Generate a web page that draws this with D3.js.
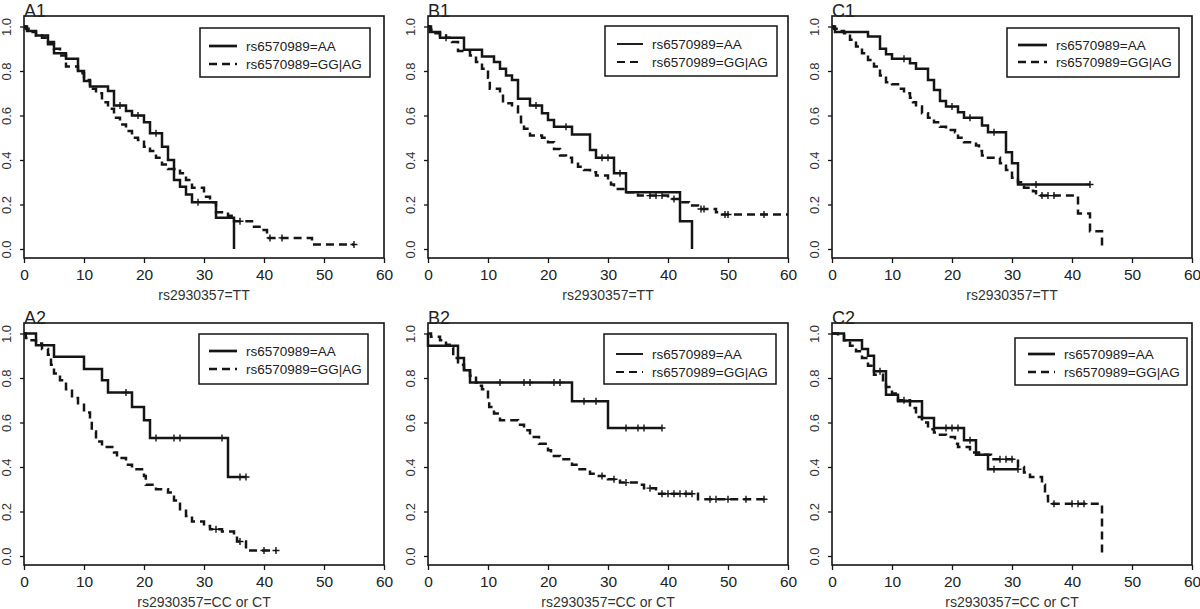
<!DOCTYPE html>
<html><head><meta charset="utf-8">
<script src="https://cdn.jsdelivr.net/npm/d3@7"></script>
<style>
body{margin:0;background:#fff;}
svg{display:block;font-family:"Liberation Sans",Arial,Helvetica,sans-serif;}
</style>
</head><body>
<svg id="chart" width="1200" height="609"></svg>
<script>
// ---------- tick labels / text ----------
const xTicks = [0, 10, 20, 30, 40, 50, 60];
const yTicks = [0, 0.2, 0.4, 0.6, 0.8, 1.0];
const panelLabels = ["A1", "B1", "C1", "A2", "B2", "C2"];
const xTitles = ["rs2930357=TT", "rs2930357=TT", "rs2930357=TT",
                 "rs2930357=CC or CT", "rs2930357=CC or CT", "rs2930357=CC or CT"];
const legendLabels = ["rs6570989=AA", "rs6570989=GG|AG"];

// ---------- Kaplan-Meier curves: event times (t), survival after event (s), censor times (c) ----------
// A1
const a1AA_t = [0.5, 2, 4, 5, 7, 9, 10, 11, 14, 15, 17, 18, 20, 21, 23, 24, 25, 26, 27, 28, 32, 35];
const a1AA_s = [0.98, 0.96, 0.92, 0.88, 0.855, 0.80, 0.755, 0.73, 0.71, 0.645, 0.62, 0.60, 0.57, 0.52, 0.46, 0.40, 0.31, 0.28, 0.245, 0.21, 0.14, 0];
const a1AA_c = [16, 19, 22, 29];
const a1GA_t = [0.3, 1, 2, 3, 4, 5, 6, 7, 9, 10, 11, 12, 13, 14, 15, 16, 17, 18, 19, 20, 21, 22, 23, 24, 26, 27, 28, 30, 31, 32, 34, 35, 38, 39.5, 40.5, 48];
const a1GA_s = [0.99, 0.975, 0.96, 0.95, 0.93, 0.90, 0.87, 0.82, 0.79, 0.76, 0.72, 0.70, 0.66, 0.63, 0.59, 0.56, 0.53, 0.50, 0.49, 0.46, 0.44, 0.41, 0.38, 0.36, 0.34, 0.31, 0.275, 0.235, 0.21, 0.165, 0.15, 0.125, 0.10, 0.085, 0.05, 0.02];
const a1GA_c = [36, 41, 43, 55];
// B1
const b1AA_t = [0.3, 2, 6, 9, 11, 12, 13, 14, 15, 17, 19, 20, 21, 24, 27, 28, 31, 33, 42, 44];
const b1AA_s = [0.975, 0.95, 0.895, 0.865, 0.84, 0.81, 0.78, 0.76, 0.675, 0.645, 0.61, 0.58, 0.55, 0.515, 0.445, 0.41, 0.34, 0.255, 0.125, 0];
const b1AA_c = [18, 23, 29, 30, 32];
const b1GA_t = [0.5, 1, 2, 3, 4, 5, 7, 8, 9, 10, 10.3, 12, 12.5, 14, 15, 15.5, 16, 17, 19, 20, 21, 22, 23, 24, 25, 26, 27, 28, 30, 30.5, 31, 33, 35, 40, 42, 43.5, 45, 48, 49];
const b1GA_s = [0.985, 0.97, 0.96, 0.95, 0.93, 0.89, 0.87, 0.84, 0.81, 0.77, 0.72, 0.70, 0.655, 0.64, 0.60, 0.57, 0.54, 0.51, 0.50, 0.48, 0.45, 0.42, 0.41, 0.39, 0.37, 0.355, 0.345, 0.33, 0.31, 0.29, 0.27, 0.255, 0.24, 0.225, 0.21, 0.195, 0.18, 0.165, 0.155];
const b1GA_c = [3, 37, 38, 39, 41, 45.5, 46, 49.5, 50, 56, 60];
// C1
const c1AA_t = [0.5, 6, 8, 9, 10, 13, 14, 16, 17, 18, 19, 21, 22, 25, 26, 29, 30, 31];
const c1AA_s = [0.975, 0.955, 0.90, 0.875, 0.855, 0.835, 0.81, 0.76, 0.715, 0.665, 0.64, 0.615, 0.59, 0.555, 0.525, 0.435, 0.385, 0.29];
const c1AA_c = [12, 20, 23, 27, 34, 43];
const c1GA_t = [0.3, 1, 2, 3, 4, 5, 6, 7, 8, 9, 10, 11, 12, 13, 13.5, 14, 15, 16, 17, 18, 19, 20.5, 21, 22, 24, 24.5, 25, 26, 28, 29, 30, 31, 32, 33.5, 34, 41, 43, 45];
const c1GA_s = [0.99, 0.98, 0.97, 0.94, 0.91, 0.88, 0.85, 0.82, 0.78, 0.75, 0.74, 0.72, 0.70, 0.68, 0.66, 0.64, 0.61, 0.59, 0.57, 0.55, 0.535, 0.525, 0.50, 0.48, 0.465, 0.44, 0.42, 0.41, 0.385, 0.355, 0.32, 0.30, 0.275, 0.26, 0.24, 0.16, 0.08, 0];
const c1GA_c = [35, 36, 37];
// A2
const a2AA_t = [2, 5, 10, 13, 14, 18, 20, 21, 34];
const a2AA_s = [0.947, 0.895, 0.84, 0.79, 0.735, 0.67, 0.61, 0.53, 0.355];
const a2AA_c = [17, 22, 25, 26, 33, 36, 37];
const a2GA_t = [0.3, 1, 2, 3, 4, 4.5, 5, 6, 7, 8, 9, 10, 11, 11.3, 12, 13, 15, 15.5, 17, 18, 20, 20.3, 22, 24, 25, 26, 27, 28, 30, 31, 33, 35, 35.5, 37];
const a2GA_s = [0.98, 0.97, 0.955, 0.93, 0.905, 0.86, 0.82, 0.79, 0.75, 0.71, 0.68, 0.645, 0.61, 0.56, 0.515, 0.49, 0.465, 0.44, 0.41, 0.39, 0.36, 0.32, 0.30, 0.285, 0.25, 0.21, 0.18, 0.155, 0.135, 0.12, 0.11, 0.095, 0.065, 0.025];
const a2GA_c = [32, 36, 40, 42];
// B2
const b2AA_t = [0, 5, 6, 7, 24, 30];
const b2AA_s = [0.945, 0.89, 0.835, 0.78, 0.695, 0.575];
const b2AA_c = [12, 16, 17, 21, 22, 26, 28, 33, 35, 36, 39];
const b2GA_t = [0.5, 2, 3, 4, 4.2, 5, 6, 7, 8, 8.5, 9, 10, 10.2, 11, 12, 15, 16, 17, 18.5, 20, 20.5, 22, 24, 25, 27, 28, 30, 32, 35, 36, 38, 45];
const b2GA_s = [0.985, 0.97, 0.95, 0.935, 0.89, 0.86, 0.84, 0.81, 0.78, 0.765, 0.75, 0.70, 0.67, 0.64, 0.61, 0.59, 0.565, 0.535, 0.505, 0.475, 0.45, 0.435, 0.41, 0.39, 0.37, 0.36, 0.345, 0.33, 0.32, 0.305, 0.28, 0.255];
const b2GA_c = [29, 31, 33, 37, 39, 40, 41, 42, 43, 44, 47, 48, 50, 53, 56];
// C2
const c2AA_t = [2, 5, 6, 7, 9, 11, 15, 17, 22, 24, 26];
const c2AA_s = [0.97, 0.93, 0.90, 0.83, 0.725, 0.695, 0.62, 0.575, 0.52, 0.455, 0.39];
const c2AA_c = [8, 19, 20, 21, 23, 27, 31];
const c2GA_t = [1, 2, 3, 4, 5, 6, 7, 8.5, 9, 10, 11, 13, 14, 15, 16, 17, 18, 19, 20.5, 21, 23, 24.5, 26.5, 31, 32, 33, 35, 35.5, 36, 45];
const c2GA_s = [0.99, 0.97, 0.945, 0.92, 0.89, 0.855, 0.815, 0.79, 0.76, 0.73, 0.70, 0.665, 0.625, 0.60, 0.57, 0.555, 0.545, 0.535, 0.505, 0.49, 0.465, 0.455, 0.435, 0.40, 0.375, 0.355, 0.32, 0.27, 0.235, 0];
const c2GA_c = [12, 28, 29, 30, 37, 40, 41, 42];

// ---------- assemble ----------
const panelCurves = [
  [[a1AA_t, a1AA_s, a1AA_c], [a1GA_t, a1GA_s, a1GA_c]],
  [[b1AA_t, b1AA_s, b1AA_c], [b1GA_t, b1GA_s, b1GA_c]],
  [[c1AA_t, c1AA_s, c1AA_c], [c1GA_t, c1GA_s, c1GA_c]],
  [[a2AA_t, a2AA_s, a2AA_c], [a2GA_t, a2GA_s, a2GA_c]],
  [[b2AA_t, b2AA_s, b2AA_c], [b2GA_t, b2GA_s, b2GA_c]],
  [[c2AA_t, c2AA_s, c2AA_c], [c2GA_t, c2GA_s, c2GA_c]]
];

// layout (pixels)
const colX = [24, 428, 832];
const rowY = [16, 323];
const boxW = 360, boxH = 242;
const legendBoxes = [
  {x: 200, y: 28, w: 170, h: 49, lx: 209, lw: 28, ty: [46, 64], lsw: 2.7},
  {x: 605, y: 26, w: 172, h: 50, lx: 617, lw: 26, ty: [44, 62], lsw: 1.9},
  {x: 1007, y: 28, w: 172, h: 49, lx: 1018, lw: 29, ty: [45, 62], lsw: 2.7},
  {x: 199, y: 334, w: 169, h: 50, lx: 209, lw: 28, ty: [351, 369], lsw: 2.7},
  {x: 604, y: 334, w: 172, h: 50, lx: 616, lw: 27, ty: [354, 372], lsw: 1.9},
  {x: 1015, y: 338, w: 172, h: 47, lx: 1028, lw: 27, ty: [354, 372], lsw: 2.7}
];

const ink = "#151515";
const svg = d3.select("#chart");
svg.append("rect").attr("width", 1200).attr("height", 609).attr("fill", "#fff");

function survAt(t, s, time) {
  let v = 1;
  for (let i = 0; i < t.length; i++) { if (t[i] <= time) v = s[i]; }
  return v;
}

panelLabels.forEach((lab, i) => {
  const x0 = colX[i % 3], y0 = rowY[Math.floor(i / 3)];
  const x = d3.scaleLinear().domain([0, 60]).range([x0, x0 + boxW]);
  const y = d3.scaleLinear().domain([0, 1]).range([y0 + 233, y0 + 10.5]);
  const g = svg.append("g");

  // x axis
  const xa = g.append("g").attr("transform", `translate(0,${y0 + boxH})`)
    .call(d3.axisBottom(x).tickValues(xTicks).tickFormat(d3.format("d")).tickSize(5).tickPadding(6));
  xa.select(".domain").remove();
  xa.selectAll("line").attr("stroke", ink).attr("stroke-width", 1.3);
  xa.selectAll("text").attr("font-size", 15.5).attr("fill", "#222").attr("font-family", "Liberation Sans, Arial, sans-serif");

  // y axis
  const ya = g.append("g").attr("transform", `translate(${x0},0)`)
    .call(d3.axisLeft(y).tickValues(yTicks).tickFormat(d3.format(".1f")).tickSize(4));
  ya.select(".domain").remove();
  ya.selectAll("line").attr("stroke", ink).attr("stroke-width", 1.3);
  ya.selectAll("text")
    .attr("x", 0).attr("y", -13).attr("dy", 0)
    .attr("transform", "rotate(-90)")
    .attr("text-anchor", "middle")
    .attr("font-size", 13).attr("fill", "#333")
    .attr("font-family", "Liberation Sans, Arial, sans-serif");

  // curves
  panelCurves[i].forEach((cv, k) => {
    const [t, s, c] = cv;
    const pts = [[0, 1]];
    let prev = 1;
    t.forEach((ti, j) => { pts.push([ti, prev]); pts.push([ti, s[j]]); prev = s[j]; });
    const endT = Math.max(t[t.length - 1], c.length ? c[c.length - 1] : 0);
    if (endT > t[t.length - 1]) pts.push([endT, prev]);
    g.append("path")
      .attr("d", d3.line().x(d => x(d[0])).y(d => y(d[1]))(pts))
      .attr("fill", "none").attr("stroke", ink).attr("stroke-width", 2.5)
      .attr("stroke-dasharray", k === 1 ? "8,5" : null)
      .attr("stroke-linejoin", "miter");
    g.selectAll(null).data(c.filter(ct => ct < 60)).enter().append("path")
      .attr("d", ct => {
        const px = x(ct), py = y(survAt(t, s, ct));
        return `M${px - 3.5},${py}h7M${px},${py - 3.5}v7`;
      })
      .attr("stroke", ink).attr("stroke-width", 1.4).attr("fill", "none");
  });

  // box
  g.append("rect").attr("x", x0).attr("y", y0).attr("width", boxW).attr("height", boxH)
    .attr("fill", "none").attr("stroke", ink).attr("stroke-width", 1.6);

  // panel label
  g.append("text").attr("x", x0).attr("y", y0 + 0.5).text(lab)
    .attr("font-size", 18).attr("fill", "#222");

  // x title
  g.append("text").attr("x", x0 + boxW / 2).attr("y", y0 + boxH + 42)
    .attr("text-anchor", "middle").attr("font-size", 14).attr("fill", "#333").text(xTitles[i]);

  // legend
  const L = legendBoxes[i];
  g.append("rect").attr("x", L.x).attr("y", L.y).attr("width", L.w).attr("height", L.h)
    .attr("fill", "#fff").attr("stroke", ink).attr("stroke-width", 1.5);
  legendLabels.forEach((txt, k) => {
    g.append("line").attr("x1", L.lx).attr("x2", L.lx + L.lw)
      .attr("y1", L.ty[k]).attr("y2", L.ty[k])
      .attr("stroke", ink).attr("stroke-width", L.lsw)
      .attr("stroke-dasharray", k === 1 ? "8,5" : null);
    g.append("text").attr("x", L.lx + L.lw + 9).attr("y", L.ty[k])
      .attr("dominant-baseline", "central").attr("font-size", 13.5).attr("fill", "#222").text(txt);
  });
});
</script>
</body></html>
